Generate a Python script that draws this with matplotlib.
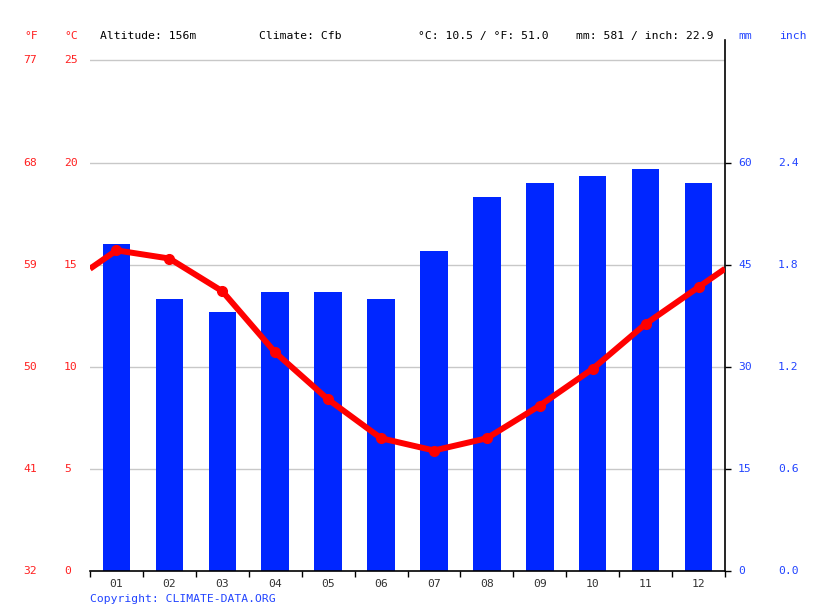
import matplotlib
matplotlib.use("Agg")
import matplotlib.pyplot as plt
import matplotlib.transforms as mtransforms
import numpy as np

months = ["01", "02", "03", "04", "05", "06", "07", "08", "09", "10", "11", "12"]
temp_c = [15.7, 15.3, 13.7, 10.7, 8.4, 6.5, 5.9, 6.5, 8.1, 9.9, 12.1, 13.9]
precip_mm = [48, 40, 38, 41, 41, 40, 47, 55, 57, 58, 59, 57]

c_ticks = [0, 5, 10, 15, 20, 25]
f_labels = ["32", "41", "50", "59", "68", "77"]
mm_ticks = [0, 15, 30, 45, 60]
inch_labels = ["0.0", "0.6", "1.2", "1.8", "2.4"]

header = [
    (24, "°F", "red"),
    (64, "°C", "red"),
    (100, "Altitude: 156m", "black"),
    (259, "Climate: Cfb", "black"),
    (418, "°C: 10.5 / °F: 51.0", "black"),
    (576, "mm: 581 / inch: 22.9", "black"),
    (738, "mm", "#2244ff"),
    (779, "inch", "#2244ff"),
]

W, H = 815, 611
plt.rcParams["font.family"] = ["DejaVu Sans Mono"]
fs = 8.2
red = "#ff2020"
blue_txt = "#2244ff"

fig = plt.figure(figsize=(W / 100, H / 100), dpi=100)
ax = fig.add_axes([90 / W, (H - 571) / H, (725 - 90) / W, (571 - 40) / H])
ax2 = ax.twinx()

x = np.arange(12) + 0.5
ax2.bar(x, precip_mm, width=0.52, color="#0026ff", zorder=2)
ax2.set_ylim(0, 78)

# wrap the line around the year edges like the original
edge = (temp_c[-1] + temp_c[0]) / 2
lx = np.concatenate([[0], x, [12]])
ly = np.concatenate([[edge], temp_c, [edge]])
ax.plot(lx, ly, color="red", lw=4.3, zorder=5, solid_capstyle="butt")
ax.plot(x, temp_c, "o", color="red", ms=7, zorder=6)
ax.set_ylim(0, 26)
ax.set_xlim(0, 12)

ax.set_zorder(ax2.get_zorder() + 1)
ax.patch.set_visible(False)

for c in c_ticks[1:]:
    ax2.axhline(c * 3, color="#c8c8c8", lw=1, zorder=1)

for a in (ax, ax2):
    for s in ("top", "left"):
        a.spines[s].set_visible(False)
ax.spines["right"].set_visible(False)
ax2.spines["bottom"].set_visible(False)
ax2.spines["right"].set_linewidth(1.2)
ax.spines["bottom"].set_linewidth(1.2)

ax.set_yticks([])
ax.set_xticks(x)
ax.set_xticklabels(months, fontsize=fs, color="#333333")
ax.tick_params(axis="x", which="major", length=0, pad=6)
ax.set_xticks(np.arange(13), minor=True)
ax.tick_params(axis="x", which="minor", length=4, width=1, direction="out")

ax2.set_yticks(mm_ticks)
ax2.set_yticklabels([])
ax2.tick_params(axis="y", length=4, width=1, direction="out")

trans_c = mtransforms.blended_transform_factory(fig.transFigure, ax.transData)
for c, f in zip(c_ticks, f_labels):
    fig.text(23 / W, c, f, transform=trans_c, color=red, fontsize=fs, va="center", ha="left")
    fig.text(64 / W, c, str(c), transform=trans_c, color=red, fontsize=fs, va="center", ha="left")

trans_mm = mtransforms.blended_transform_factory(fig.transFigure, ax2.transData)
for m, i in zip(mm_ticks, inch_labels):
    fig.text(738 / W, m, str(m), transform=trans_mm, color=blue_txt, fontsize=fs, va="center", ha="left")
    fig.text(778 / W, m, i, transform=trans_mm, color=blue_txt, fontsize=fs, va="center", ha="left")

for px, s, col in header:
    c = red if col == "red" else col
    fig.text(px / W, 1 - 36 / H, s, color=c, fontsize=fs, va="center", ha="left")

fig.text(90 / W, 1 - 599 / H, "Copyright: CLIMATE-DATA.ORG", color=blue_txt, fontsize=fs, va="center", ha="left")

fig.savefig("out.png", dpi=100)
